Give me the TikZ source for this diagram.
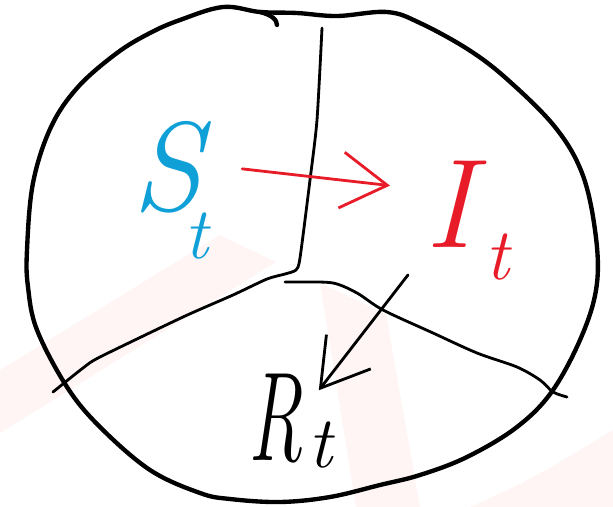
\documentclass[tikz,border=0pt]{standalone}
\usepackage{graphicx}
\usetikzlibrary{arrows.meta}

\definecolor{sblue}{RGB}{16,160,216}
\definecolor{ired}{RGB}{232,28,40}
\definecolor{wmark}{RGB}{255,245,245}

% letter, kern before the t, drop of the t
\newcommand{\comp}[3]{#1\kern#2\raisebox{#3}{\fontsize{52}{52}\selectfont t}}

\begin{document}
\begin{tikzpicture}[x=0.025cm, y=-0.025cm,
    rim/.style={line width=3.1pt, line cap=round, line join=round},
    wall/.style={line width=2pt, line cap=round, line join=round},
    flow/.style={line width=2pt, line cap=round,
        -{Straight Barb[length=1.15cm, width=1.4cm]}},
    lbl/.style={inner sep=0pt, font=\fontsize{90}{90}\selectfont\itshape}]
    \useasboundingbox (0,0) rectangle (613,507);

    % faint stripes behind
    \fill[wmark] (0,370) -- (220,235) -- (276,262) -- (0,433) -- cycle;
    \fill[wmark] (320,283) -- (386,314) -- (420,507) -- (356,507) -- cycle;
    \fill[wmark] (613,430) -- (613,507) -- (470,507) .. controls (530,480) .. cycle;

    % population
    \draw[rim] plot[smooth cycle, tension=0.6] coordinates {
        (27,250) (33,183) (51,127) (78,87) (117,53) (150,33) (180,20)
        (223,7) (260,12) (297,13) (337,16) (387,12) (420,23) (469,50)
        (508,80) (555,127) (582,173) (595,230) (597,283) (583,333)
        (553,390) (517,427) (467,457) (420,475) (380,485) (330,497)
        (280,502) (230,499) (200,493) (150,470) (100,427) (67,387)
        (37,330) (28,287)};
    \draw[rim] (260,12) .. controls (272,15) and (277,20) .. (277,25);

    % compartments
    \draw[wall] plot[smooth, tension=0.4] coordinates {
        (322,28) (317,120) (310,180) (300,258) (296,270) (285,274)
        (267,279) (233,295) (183,317) (100,357) (83,368) (53,392)};
    \draw[wall] plot[smooth, tension=0.5] coordinates {
        (285,282) (300,282) (333,283) (357,293) (383,310) (433,333)
        (477,353) (517,367) (540,380) (553,392) (567,397)};

    \node[lbl, text=sblue, anchor=base west] (S) at (132,210) {\comp{S}{-0.14em}{-0.38em}};
    \node[lbl, text=ired, anchor=base west] (I) at (425,247) {\comp{I}{0.1em}{-0.26em}};
    \node[lbl, anchor=base west] (R) at (248,460) {\comp{\scalebox{0.6}[1]{R}}{0.05em}{-0.06em}};

    \draw[flow, ired] ([shift={(34,-21)}]S.east) -- ([shift={(-35,-35)}]I.west);
    \draw[flow] ([shift={(-17,-6)}]I.south west) -- ([shift={(-14,17)}]R.north east);
\end{tikzpicture}
\end{document}
